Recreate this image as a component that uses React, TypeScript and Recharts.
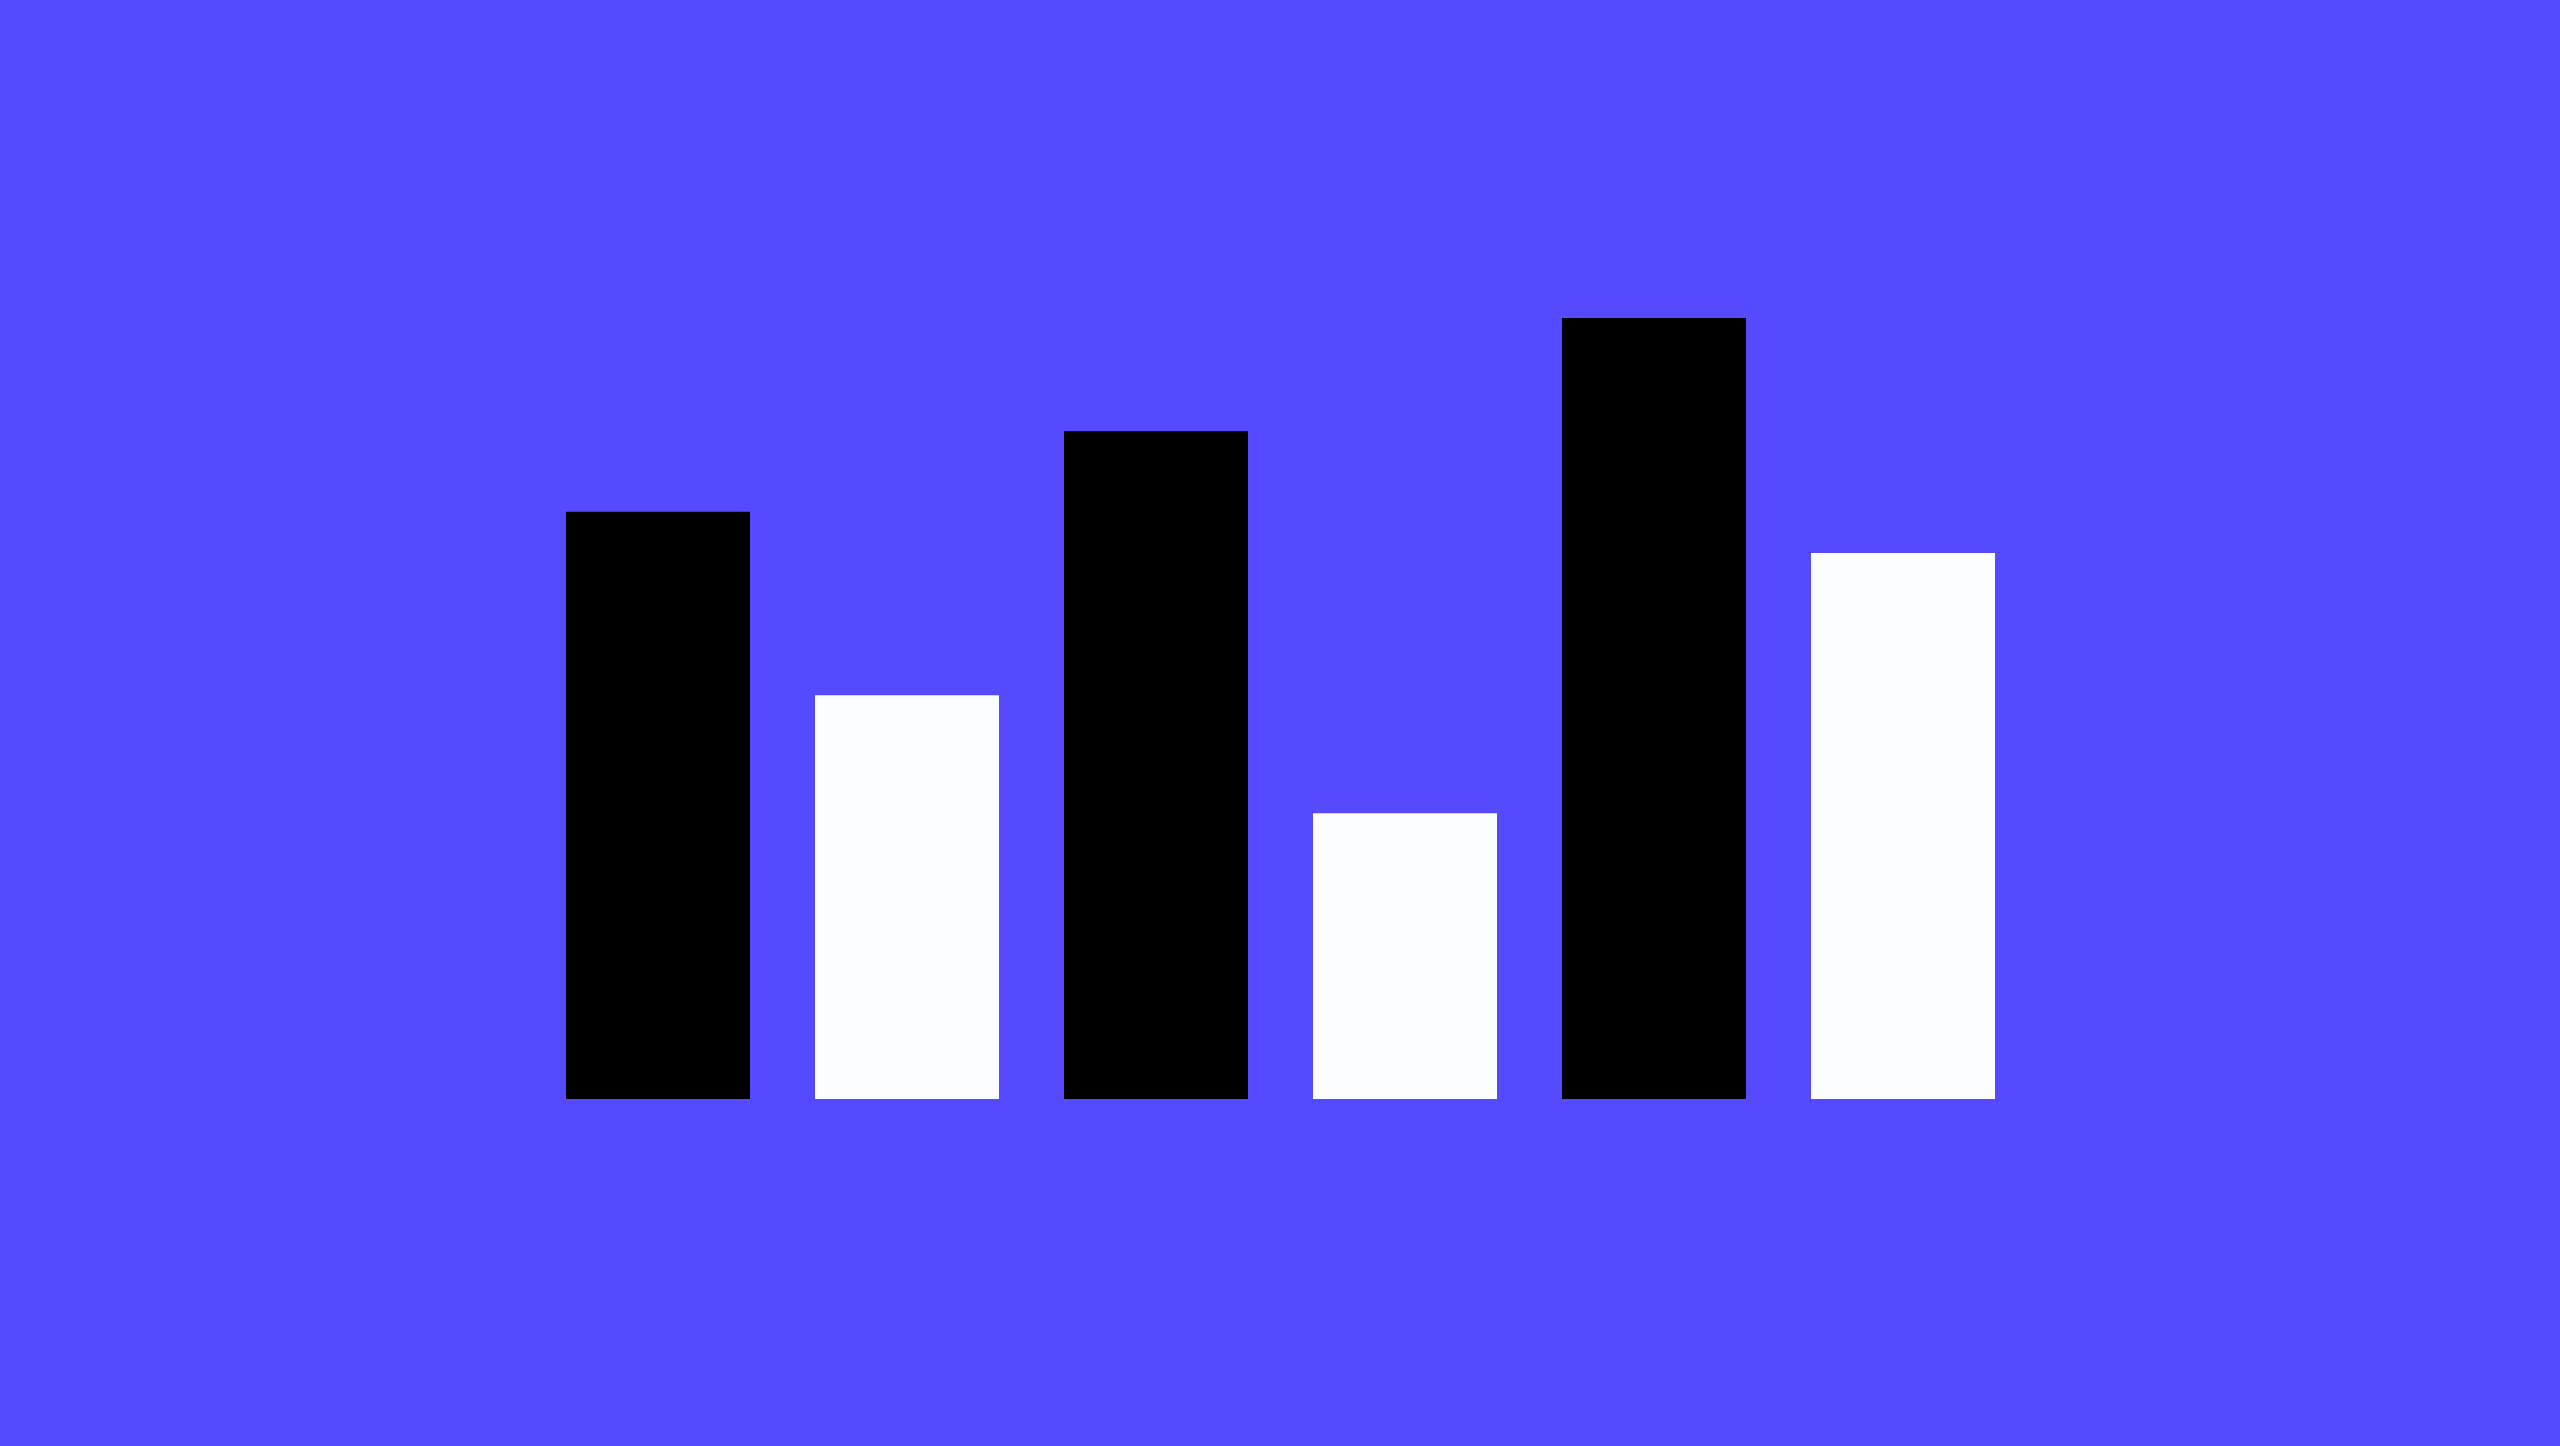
import { Bar, BarChart, Cell, XAxis, YAxis } from "recharts"

const categories = ["A", "B", "C", "D", "E", "F"]
const values = [75.2, 51.7, 85.5, 36.6, 100, 69.9]
const barColors = ["#000000", "#fcfdff", "#000000", "#fcfdff", "#000000", "#fcfdff"]

const data = categories.map((name, i) => ({ name, value: values[i] }))

export default function App() {
    return (
        <div style={{ position: "fixed", left: 0, top: 0, width: 2560, height: 1446, background: "#564aff" }}>
            <BarChart
                width={2560}
                height={1446}
                data={data}
                margin={{ top: 318, right: 533, bottom: 347, left: 533 }}
            >
                <XAxis dataKey="name" hide />
                <YAxis domain={[0, 100]} hide />
                <Bar dataKey="value" barSize={184} isAnimationActive={false}>
                    {data.map((d, i) => (
                        <Cell key={d.name} fill={barColors[i]} />
                    ))}
                </Bar>
            </BarChart>
        </div>
    )
}
